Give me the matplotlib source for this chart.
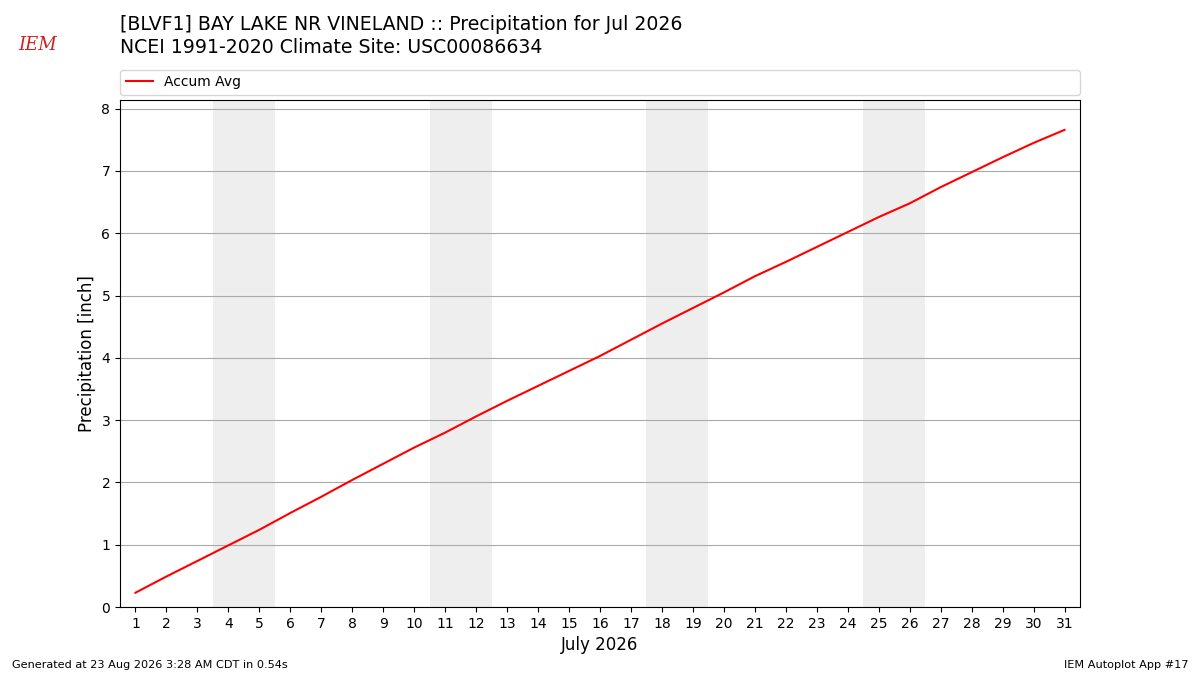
import matplotlib
matplotlib.use("Agg")
import matplotlib.pyplot as plt

days = list(range(1, 32))
accum_avg = [0.23, 0.49, 0.74, 0.99, 1.24, 1.51, 1.77, 2.04, 2.30, 2.56,
             2.80, 3.06, 3.31, 3.55, 3.79, 4.03, 4.29, 4.55, 4.80, 5.05,
             5.31, 5.54, 5.78, 6.02, 6.26, 6.48, 6.74, 6.98, 7.22, 7.45, 7.66]
weekend_starts = [4, 11, 18, 25]

fig = plt.figure(figsize=(12, 6.75), dpi=100)
ax = fig.add_axes([0.1, 0.1007, 0.8, 0.7512])

for d in weekend_starts:
    ax.axvspan(d - 0.5, d + 1.5, color="#eeeeee", zorder=0, lw=0)

ax.plot(days, accum_avg, color="red", lw=1.5, label="Accum Avg", zorder=3)
ax.set_xlim(0.5, 31.5)
ax.set_ylim(0, 8.14)
ax.set_xticks(days)
ax.set_xticklabels([str(d) for d in days])
ax.set_yticks(range(0, 9))
ax.grid(axis="y", color="#aaaaaa", lw=0.8)
ax.set_axisbelow(True)
ax.set_xlabel("July 2026", fontsize=12)
ax.set_ylabel("Precipitation [inch]", fontsize=12)
ax.tick_params(labelsize=10)

ax.legend(loc="lower left", bbox_to_anchor=(0, 1.01, 1, 0.05), mode="expand",
          ncol=1, fontsize=10, borderaxespad=0, frameon=True)

fig.text(0.1, 0.963, "[BLVF1] BAY LAKE NR VINELAND :: Precipitation for Jul 2026",
         fontsize=13.6, va="center", ha="left")
fig.text(0.1, 0.929, "NCEI 1991-2020 Climate Site: USC00086634",
         fontsize=13.6, va="center", ha="left")

# simple logo stand-in
fig.text(0.031, 0.933, "IEM", fontsize=13, color="#cc2222", style="italic",
         family="DejaVu Serif", ha="center", va="center")

fig.text(0.01, 0.015, "Generated at 23 Aug 2026 3:28 AM CDT in 0.54s", fontsize=8.1,
         ha="left", va="center")
fig.text(0.99, 0.015, "IEM Autoplot App #17", fontsize=8.1, ha="right", va="center")

fig.savefig("out.png", dpi=100)
